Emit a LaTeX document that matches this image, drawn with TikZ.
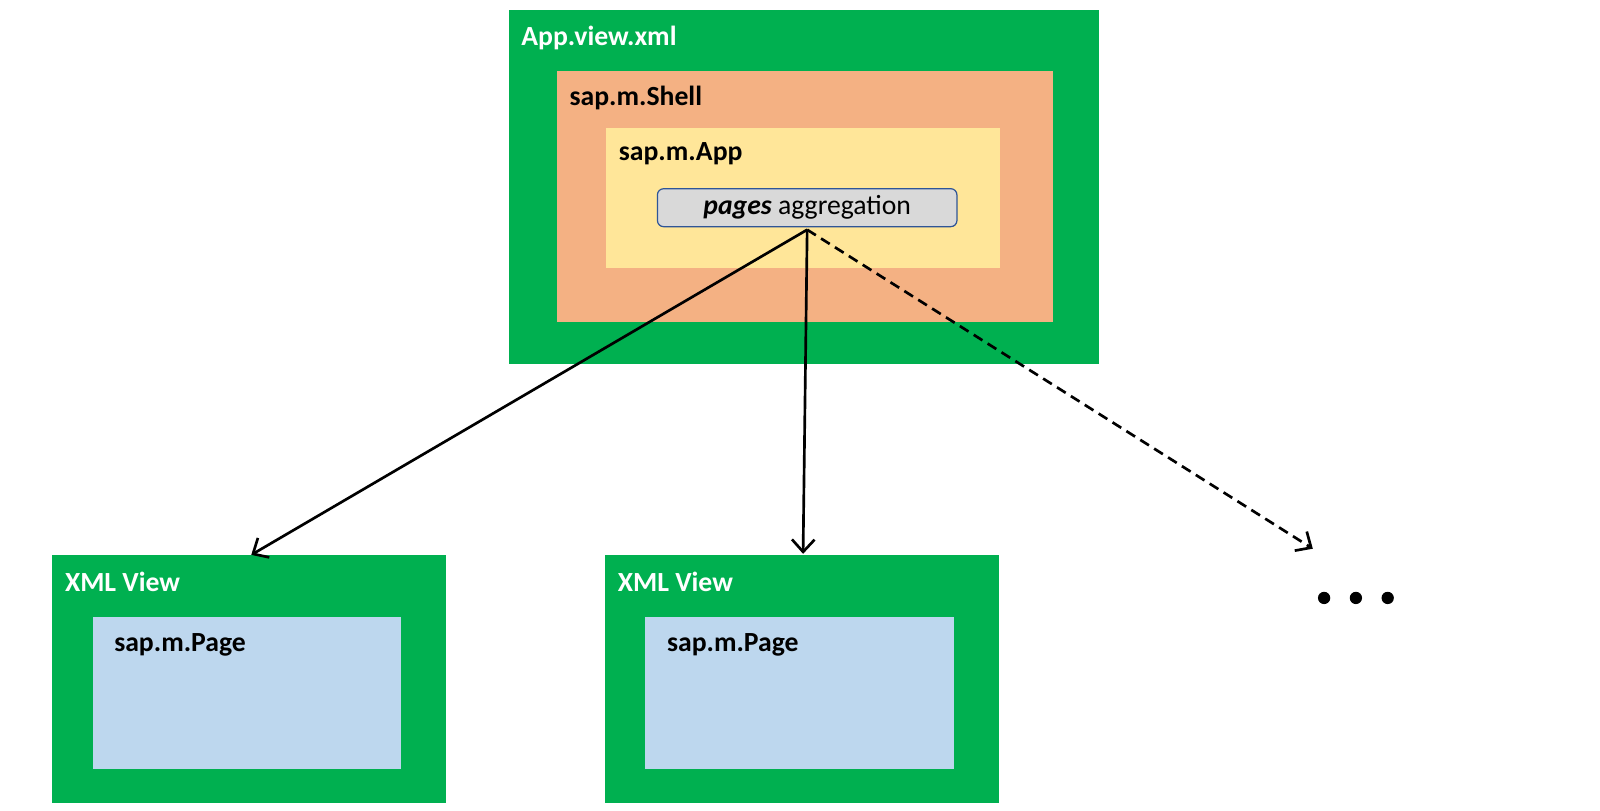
\documentclass[tikz,border=0pt]{standalone}
\usepackage{fontspec}
\setmainfont{Carlito}
\usetikzlibrary{arrows.meta}
\definecolor{grn}{HTML}{00B050}
\definecolor{org}{HTML}{F4B183}
\definecolor{yel}{HTML}{FFE699}
\definecolor{blu}{HTML}{BDD7EE}
\definecolor{gry}{HTML}{D9D9D9}
\definecolor{bord}{HTML}{2F5597}
\begin{document}
\begin{tikzpicture}[x=0.5pt,y=-0.5pt,
  lbl/.style={anchor=west,font=\fontsize{13.5}{16}\selectfont\bfseries,inner sep=0},
  wlbl/.style={lbl,text=white},
  arr/.style={line width=1.3pt,-{Straight Barb[length=6pt,width=11pt,line width=1.3pt]}}]
\useasboundingbox (0,0) rectangle (1560,790);
\fill[grn] (496,10) rectangle (1072,355);
\fill[org] (543,69) rectangle (1027,314);
\fill[yel] (591,125) rectangle (975,261);
\node[wlbl] (appview) at (508,37) {App.view.xml};
\node[lbl] (shell) at (555,96) {sap.m.Shell};
\node[lbl] (app) at (603,150) {sap.m.App};
\node[draw=bord,fill=gry,rounded corners=3pt,line width=0.6pt,minimum width=146pt,minimum height=18.5pt,inner sep=0,
  font=\fontsize{13.5}{16}\selectfont] (pages) at (787,202.5) {\textbf{\itshape pages} aggregation};
\fill[grn] (51,541) rectangle (435,783);
\fill[blu] (91,602) rectangle (391,750);
\node[wlbl] (x1) at (63,567) {XML View};
\node[lbl] (p1) at (111,629) {sap.m.Page};
\fill[grn] (590,541) rectangle (974,783);
\fill[blu] (629,602) rectangle (930,750);
\node[wlbl] (x2) at (602,567) {XML View};
\node[lbl] (p2) at (650,629) {sap.m.Page};
\coordinate (src) at (787,224);
\coordinate (t1) at (245,541);
\coordinate (t2) at (783,540);
\coordinate (t3) at (1280,535);
\draw[arr] (src) -- (t1);
\draw[arr] (src) -- (t2);
\draw[arr,dashed,dash pattern=on 5pt off 3pt] (src) -- (t3);
\foreach \x in {1291,1322,1353} \fill (\x,583) circle (3pt);
\end{tikzpicture}
\end{document}
